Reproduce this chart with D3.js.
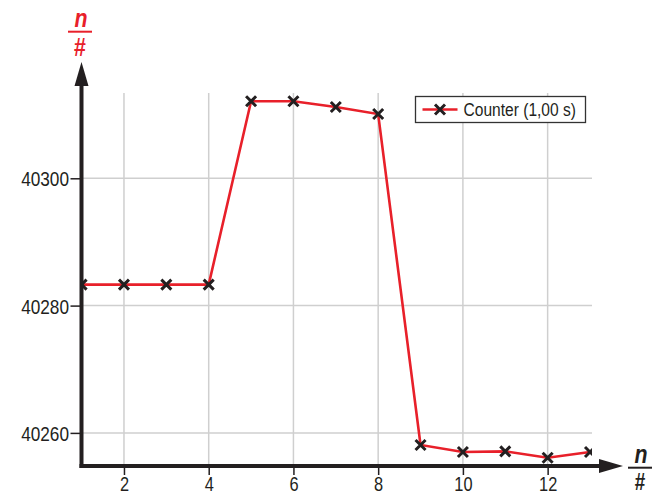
<!DOCTYPE html>
<html><head><meta charset="utf-8">
<script src="https://cdn.jsdelivr.net/npm/d3@7"></script>
<style>body{margin:0;background:#fff}svg{display:block;font-family:"Liberation Sans",Arial,sans-serif}</style>
</head><body>
<svg id="c" width="659" height="496"></svg>
<script>
const xValues = [1,2,3,4,5,6,7,8,9,10,11,12,13];
const counterValues = [40283.3,40283.3,40283.3,40283.3,40312.1,40312.1,40311.2,40310.1,40258.1,40257.0,40257.1,40256.1,40257.0];
const xTicks = [2,4,6,8,10,12];
const yTicks = [40260,40280,40300];
const seriesName = "Counter (1,00 s)";
const axisLabel = {num:"n", den:"#"};

const FONT = "'Liberation Sans',Arial,sans-serif";
const K = 0.82; // horizontal condensing
const svg = d3.select("#c");
const L=81.5, R=592, T=93, B=466;
const x = d3.scaleLinear().domain([1,13]).range([81.6,590]);
const y = d3.scaleLinear().domain([40254.8,40313.4]).range([B,T]);
const red="#e8202a", dark="#231f20", grid="#cfcfcf";

function narrow(sel){
  sel.each(function(){
    const t=d3.select(this); const x0=+t.attr("x")||0;
    t.attr("x",x0/K).attr("transform",`scale(${K},1)`);
  });
}

// grid
svg.append("g").selectAll("line").data(xTicks).join("line")
  .attr("x1",d=>x(d)).attr("x2",d=>x(d)).attr("y1",T).attr("y2",B)
  .attr("stroke",grid).attr("stroke-width",1.5);
svg.append("g").selectAll("line").data(yTicks).join("line")
  .attr("x1",L).attr("x2",R).attr("y1",d=>y(d)).attr("y2",d=>y(d))
  .attr("stroke",grid).attr("stroke-width",1.5);

// clip
svg.append("clipPath").attr("id","clip").append("rect").attr("x",L).attr("y",T-20).attr("width",R-L).attr("height",B-T+20);
const g = svg.append("g").attr("clip-path","url(#clip)");
const data = xValues.map((d,i)=>({x:d,y:counterValues[i]}));
g.append("path").datum(data).attr("fill","none").attr("stroke",red).attr("stroke-width",2.6)
  .attr("d",d3.line().x(d=>x(d.x)).y(d=>y(d.y)));
const s=5;
g.append("g").selectAll("path").data(data).join("path")
  .attr("d",d=>`M${x(d.x)-s},${y(d.y)-s}L${x(d.x)+s},${y(d.y)+s}M${x(d.x)-s},${y(d.y)+s}L${x(d.x)+s},${y(d.y)-s}`)
  .attr("stroke",dark).attr("stroke-width",3).attr("fill","none");

// axes via d3 axis
const yAxis = svg.append("g").attr("transform",`translate(${L},0)`)
  .call(d3.axisLeft(y).tickValues(yTicks).tickSize(11).tickPadding(2).tickFormat(d3.format("d")));
const xAxis = svg.append("g").attr("transform",`translate(0,${B})`)
  .call(d3.axisBottom(x).tickValues(xTicks).tickSize(9).tickPadding(3).tickFormat(d3.format("d")));
[yAxis,xAxis].forEach(a=>{
  a.select(".domain").remove();
  a.selectAll(".tick line").attr("stroke",dark).attr("stroke-width",1.5);
  a.selectAll(".tick text").attr("fill","#231f20").style("font-size","21px").style("font-family",FONT);
});
yAxis.selectAll(".tick text").attr("x",-12.5).attr("dy","0.36em").call(narrow);
xAxis.selectAll(".tick text").style("font-size","20px").attr("y",25.5).attr("dy",null).call(narrow);

// axis lines + arrows
svg.append("line").attr("x1",L).attr("x2",L).attr("y1",B+2).attr("y2",80).attr("stroke",dark).attr("stroke-width",4);
svg.append("line").attr("x1",L-2).attr("x2",605).attr("y1",B).attr("y2",B).attr("stroke",dark).attr("stroke-width",4);
svg.append("path").attr("d",`M${L},62L${L+7},86L${L-7},86Z`).attr("fill",dark);
svg.append("path").attr("d",`M623,${B}L599,${B-7}L599,${B+7}Z`).attr("fill",dark);

// axis labels n/#
function frac(cx, cy, col, denY, denSize){
  const gg = svg.append("g").attr("fill",col).style("font-weight","bold").style("font-family",FONT);
  gg.append("text").attr("x",cx+1).attr("y",cy).attr("text-anchor","middle").style("font-style","italic").style("font-size","26px").text(axisLabel.num).call(narrow);
  gg.append("line").attr("x1",cx-12).attr("x2",cx+12).attr("y1",cy+4.7).attr("y2",cy+4.7).attr("stroke",col).attr("stroke-width",2);
  gg.append("text").attr("x",cx).attr("y",cy+denY).attr("text-anchor","middle").style("font-size",denSize+"px").text(axisLabel.den).call(narrow);
}
frac(80,27,red,29,26);
frac(640,463,dark,27.5,23);

// legend
const lg = svg.append("g").attr("transform","translate(415.5,96.5)");
lg.append("rect").attr("width",170).attr("height",26).attr("fill","#fff").attr("stroke","#333").attr("stroke-width",1.3);
lg.append("line").attr("x1",7).attr("x2",42).attr("y1",13).attr("y2",13).attr("stroke",red).attr("stroke-width",2.6);
lg.append("path").attr("d",`M${24.5-s},${13-s}L${24.5+s},${13+s}M${24.5-s},${13+s}L${24.5+s},${13-s}`).attr("stroke",dark).attr("stroke-width",3);
lg.append("text").attr("x",48).attr("y",19.5).attr("fill","#231f20").style("font-size","19px").style("font-family",FONT).text(seriesName).call(narrow);
</script>
</body></html>
